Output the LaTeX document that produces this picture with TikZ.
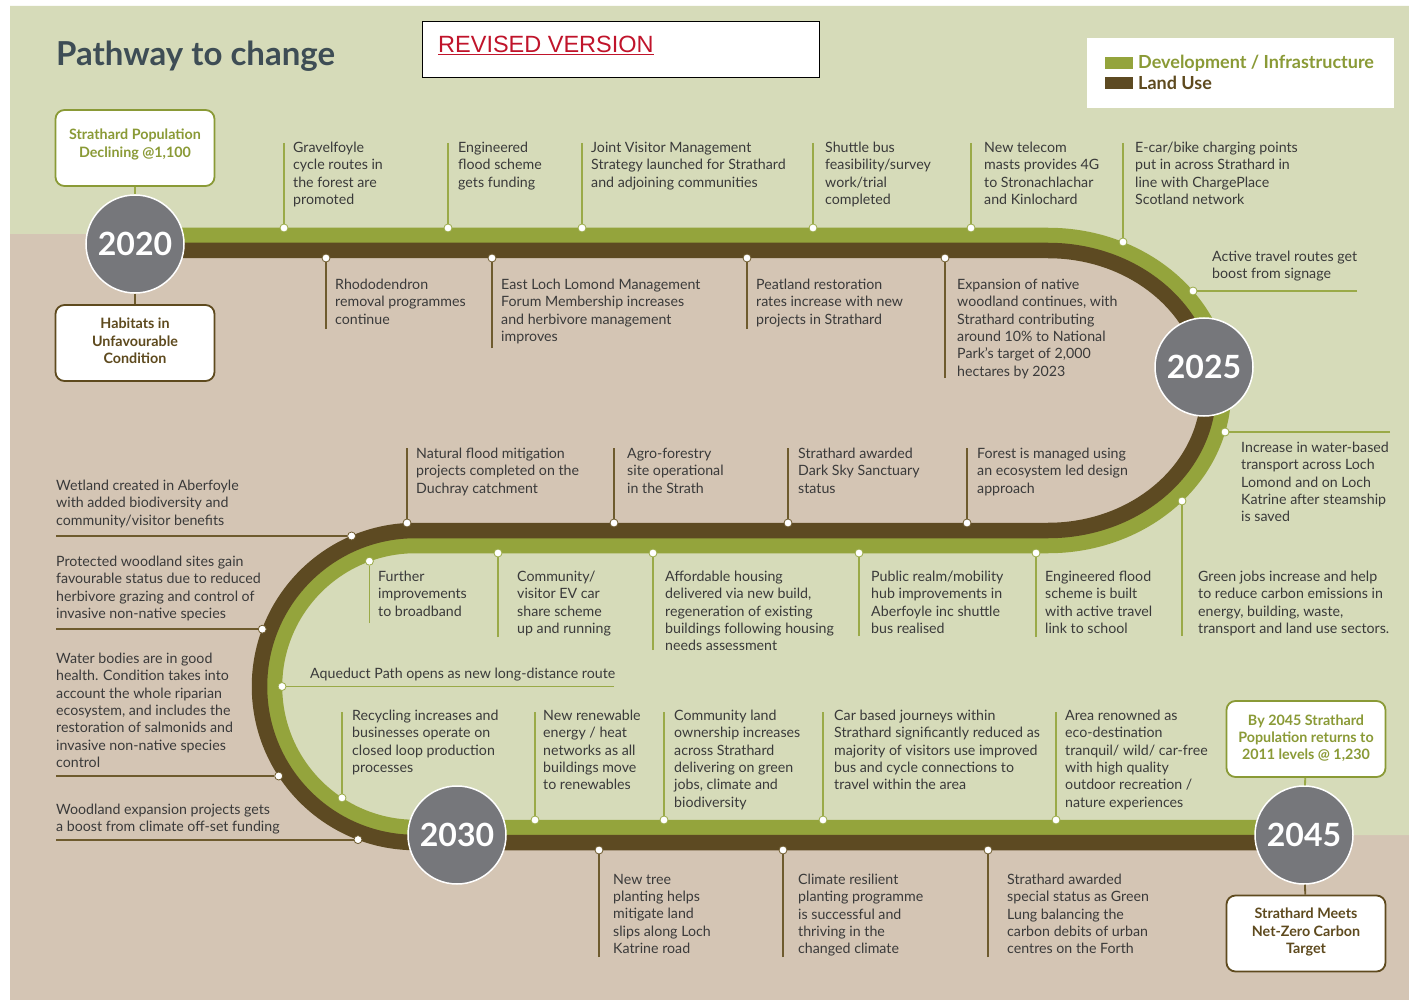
\documentclass[tikz,border=0pt]{standalone}
\usepackage{fontspec}
\setmainfont{Lato}
\newfontfamily\arialfont{Liberation Sans}
\definecolor{bggreen}{HTML}{D6DBB9}
\definecolor{bgbeige}{HTML}{D4C5B4}
\definecolor{roadgreen}{HTML}{94A43C}
\definecolor{roadbrown}{HTML}{5D4A22}
\definecolor{linegreen}{HTML}{9AAA48}
\definecolor{linebrown}{HTML}{6E5B2E}
\definecolor{olivetext}{HTML}{8A9A36}
\definecolor{browntext}{HTML}{5E4A1E}
\definecolor{yeargray}{HTML}{76777B}
\definecolor{titlecol}{HTML}{3E4D55}
\definecolor{txtcol}{HTML}{3A3A3A}
\definecolor{revred}{HTML}{C0142B}
\begin{document}
\begin{tikzpicture}[x=1pt,y=-1pt,
  txt/.style={anchor=north west, inner sep=0pt, align=left, text=txtcol, font=\fontsize{14.2}{17.3}\selectfont},
  gdot/.style={circle, fill=white, draw=linegreen, line width=0.8pt, inner sep=0pt, minimum size=8pt},
  bdot/.style={circle, fill=white, draw=linebrown, line width=0.8pt, inner sep=0pt, minimum size=8pt},
  gline/.style={draw=linegreen, line width=1.8pt},
  bline/.style={draw=linebrown, line width=1.8pt},
  year/.style={circle, fill=yeargray, draw=white, line width=1.5pt, minimum size=98pt, inner sep=0pt, text=white, font=\bfseries\fontsize{32}{32}\selectfont},
  ybox/.style={rounded corners=9pt, fill=white, line width=1.8pt, minimum width=159pt, minimum height=76pt, inner sep=0pt},
  ytext/.style={align=center, inner sep=0pt, font=\bfseries\fontsize{14.3}{17.3}\selectfont},
  swatch/.style={minimum width=28pt, minimum height=12pt, inner sep=0pt}
]
\useasboundingbox (0,0) rectangle (1409,1003);
% background
\fill[white] (0,0) rectangle (1409,1003);
\fill[bgbeige] (10,6) rectangle (1409,1000);
\fill[bggreen] (10,6) -- (1409,6) -- (1409,835) -- (415.5,835)
  arc[start angle=270,end angle=90,radius=148.5pt] -- (1048,538)
  arc[start angle=-90,end angle=90,x radius=168pt,y radius=147.5pt] -- (135,243) -- (135,234) -- (10,234) -- cycle;
% road
\draw[roadgreen, line width=15.5pt] (135,235.5) -- (1048,235.5)
  arc[start angle=90,end angle=-90,x radius=175.5pt,y radius=155pt] -- (415.5,545.5)
  arc[start angle=90,end angle=270,radius=141pt] -- (1303,827.5);
\draw[roadbrown, line width=15.5pt] (135,250.5) -- (1048,250.5)
  arc[start angle=90,end angle=-90,x radius=160.5pt,y radius=140pt] -- (415.5,530.5)
  arc[start angle=90,end angle=270,radius=156pt] -- (1303,842.5);

% title
\node[anchor=base west, inner sep=0pt, text=titlecol, font=\bfseries\fontsize{33}{33}\selectfont] (title) at (56,66) {Pathway to change};
\node[draw=black, line width=1pt, fill=white, minimum width=397pt, minimum height=56pt, inner sep=0pt] (revbox) at (620.5,50) {};
\node[anchor=west, inner sep=0pt, text=revred, font=\arialfont\fontsize{23.5}{23.5}\selectfont] (revtxt) at (438,45) {\underline{REVISED VERSION}};
% legend
\node[fill=white, minimum width=307pt, minimum height=70pt, inner sep=0pt] (legend) at (1240.5,73) {};
\node[swatch, fill=roadgreen] (sw1) at (1119,63) {};
\node[swatch, fill=roadbrown] (sw2) at (1119,83) {};
\node[anchor=west, inner sep=0pt, text=olivetext, font=\bfseries\fontsize{18}{18}\selectfont] (lg1) at (1138,63) {Development / Infrastructure};
\node[anchor=west, inner sep=0pt, text=browntext, font=\bfseries\fontsize{18}{18}\selectfont] (lg2) at (1138,83) {Land Use};

% dots
\node[gdot] (d1) at (284,228) {};
\node[gdot] (d2) at (448,228) {};
\node[gdot] (d3) at (582,228) {};
\node[gdot] (d4) at (813,228) {};
\node[gdot] (d5) at (971,228) {};
\node[gdot] (d6) at (1123,242) {};
\node[bdot] (d7) at (326,258) {};
\node[bdot] (d8) at (492,258) {};
\node[bdot] (d9) at (747,258) {};
\node[bdot] (d10) at (945,258) {};
\node[gdot] (d11) at (1193,291) {};
\node[gdot] (d12) at (1225,432) {};
\node[gdot] (d13) at (1182,501) {};
\node[bdot] (d14) at (407,523) {};
\node[bdot] (d15) at (614,523) {};
\node[bdot] (d16) at (788,523) {};
\node[bdot] (d17) at (967,523) {};
\node[gdot] (d18) at (369.4,561.2) {};
\node[gdot] (d19) at (498,553) {};
\node[gdot] (d20) at (653,553) {};
\node[gdot] (d21) at (859,553) {};
\node[gdot] (d22) at (1036,553) {};
\node[bdot] (d23) at (351.6,536) {};
\node[bdot] (d24) at (262.3,629.2) {};
\node[bdot] (d25) at (278.7,776) {};
\node[bdot] (d26) at (358,839.6) {};
\node[gdot] (d27) at (282,686.5) {};
\node[gdot] (d28) at (342,797.9) {};
\node[gdot] (d29) at (535,820) {};
\node[gdot] (d30) at (664,820) {};
\node[gdot] (d31) at (823,820) {};
\node[gdot] (d32) at (1056,820) {};
\node[bdot] (d33) at (599,850) {};
\node[bdot] (d34) at (783,850) {};
\node[bdot] (d35) at (988,850) {};

% free ends
\coordinate (e1) at (284,143);
\coordinate (e2) at (448,143);
\coordinate (e3) at (582,143);
\coordinate (e4) at (813,143);
\coordinate (e5) at (971,143);
\coordinate (e6) at (1123,143);
\coordinate (e7) at (326,329);
\coordinate (e8) at (492,348);
\coordinate (e9) at (747,329);
\coordinate (e10) at (945,378);
\coordinate (e11) at (1357,291);
\coordinate (e12) at (1390,432);
\coordinate (e13) at (1182,636);
\coordinate (e14) at (407,448);
\coordinate (e15) at (614,448);
\coordinate (e16) at (788,448);
\coordinate (e17) at (967,448);
\coordinate (e18) at (369.4,623);
\coordinate (e19) at (498,637);
\coordinate (e20) at (653,650);
\coordinate (e21) at (859,636);
\coordinate (e22) at (1036,637);
\coordinate (e23) at (56,536);
\coordinate (e24) at (56,629.2);
\coordinate (e25) at (56,776);
\coordinate (e26) at (56,839.6);
\coordinate (e27) at (614,686.5);
\coordinate (e28) at (342,712);
\coordinate (e29) at (535,712);
\coordinate (e30) at (664,712);
\coordinate (e31) at (823,712);
\coordinate (e32) at (1056,712);
\coordinate (e33) at (599,957);
\coordinate (e34) at (783,957);
\coordinate (e35) at (988,957);

% connectors
\foreach \i in {1,2,3,4,5,6,11,12,13,18,19,20,21,22,27,28,29,30,31,32} {\draw[gline] (e\i) -- (d\i);}
\foreach \i in {7,8,9,10,14,15,16,17,23,24,25,26,33,34,35} {\draw[bline] (e\i) -- (d\i);}

% year circles and boxes
\node[year] (y2020) at (135,244) {2020};
\node[year] (y2025) at (1204,367) {2025};
\node[year] (y2030) at (457,835) {2030};
\node[year] (y2045) at (1304,835) {2045};
\node[ybox, draw=olivetext] (b1) at (135,148) {};
\node[ybox, draw=browntext] (b2) at (135,343) {};
\node[ybox, draw=olivetext] (b3) at (1306,739) {};
\node[ybox, draw=browntext] (b4) at (1306,933.5) {};
\node[ytext, text=olivetext] (b1t) at (135,144.5) {Strathard Population\\Declining @1,100};
\node[ytext, text=browntext] (b2t) at (135,341) {Habitats in\\Unfavourable\\Condition};
\node[ytext, text=olivetext] (b3t) at (1306,738) {By 2045 Strathard\\Population returns to\\2011 levels @ 1,230};
\node[ytext, text=browntext] (b4t) at (1306,932) {Strathard Meets\\Net-Zero Carbon\\Target};
\draw[gline] (b1) -- (y2020);
\draw[bline] (y2020) -- (b2);
\draw[gline] (b3) -- (y2045);
\draw[bline] (y2045) -- (b4);

% texts
\node[txt] (t1) at (293,142) {Gravelfoyle\\cycle routes in\\the forest are\\promoted};
\node[txt] (t2) at (458,142) {Engineered\\flood scheme\\gets funding};
\node[txt] (t3) at (591,142) {Joint Visitor Management\\Strategy launched for Strathard\\and adjoining communities};
\node[txt] (t4) at (825,142) {Shuttle bus\\feasibility/survey\\work/trial\\completed};
\node[txt] (t5) at (984,142) {New telecom\\masts provides 4G\\to Stronachlachar\\and Kinlochard};
\node[txt] (t6) at (1135,142) {E-car/bike charging points\\put in across Strathard in\\line with ChargePlace\\Scotland network};
\node[txt] (t7) at (335,279) {Rhododendron\\removal programmes\\continue};
\node[txt] (t8) at (501,279) {East Loch Lomond Management\\Forum Membership increases\\and herbivore management\\improves};
\node[txt] (t9) at (756,279) {Peatland restoration\\rates increase with new\\projects in Strathard};
\node[txt] (t10) at (957,279) {Expansion of native\\woodland continues, with\\Strathard contributing\\around 10\% to National\\Park’s target of 2,000\\hectares by 2023};
\node[txt] (t11) at (1212,251) {Active travel routes get\\boost from signage};
\node[txt] (t12) at (1241,442) {Increase in water-based\\transport across Loch\\Lomond and on Loch\\Katrine after steamship\\is saved};
\node[txt] (t13) at (1198,571) {Green jobs increase and help\\to reduce carbon emissions in\\energy, building, waste,\\transport and land use sectors.};
\node[txt] (t14) at (416,448) {Natural flood mitigation\\projects completed on the\\Duchray catchment};
\node[txt] (t15) at (627,448) {Agro-forestry\\site operational\\in the Strath};
\node[txt] (t16) at (798,448) {Strathard awarded\\Dark Sky Sanctuary\\status};
\node[txt] (t17) at (977,448) {Forest is managed using\\an ecosystem led design\\approach};
\node[txt] (t18) at (378,571) {Further\\improvements\\to broadband};
\node[txt] (t19) at (517,571) {Community/\\visitor EV car\\share scheme\\up and running};
\node[txt] (t20) at (665,571) {Affordable housing\\delivered via new build,\\regeneration of existing\\buildings following housing\\needs assessment};
\node[txt] (t21) at (871,571) {Public realm/mobility\\hub improvements in\\Aberfoyle inc shuttle\\bus realised};
\node[txt] (t22) at (1045,571) {Engineered flood\\scheme is built\\with active travel\\link to school};
\node[txt] (t23) at (56,480) {Wetland created in Aberfoyle\\with added biodiversity and\\community/visitor benefits};
\node[txt] (t24) at (56,556) {Protected woodland sites gain\\favourable status due to reduced\\herbivore grazing and control of\\invasive non-native species};
\node[txt] (t25) at (56,653) {Water bodies are in good\\health. Condition takes into\\account the whole riparian\\ecosystem, and includes the\\restoration of salmonids and\\invasive non-native species\\control};
\node[txt] (t26) at (56,804) {Woodland expansion projects gets\\a boost from climate off-set funding};
\node[txt] (t27) at (310,668) {Aqueduct Path opens as new long-distance route};
\node[txt] (t28) at (352,710) {Recycling increases and\\businesses operate on\\closed loop production\\processes};
\node[txt] (t29) at (543,710) {New renewable\\energy / heat\\networks as all\\buildings move\\to renewables};
\node[txt] (t30) at (674,710) {Community land\\ownership increases\\across Strathard\\delivering on green\\jobs, climate and\\biodiversity};
\node[txt] (t31) at (834,710) {Car based journeys within\\Strathard significantly reduced as\\majority of visitors use improved\\bus and cycle connections to\\travel within the area};
\node[txt] (t32) at (1065,710) {Area renowned as\\eco-destination\\tranquil/ wild/ car-free\\with high quality\\outdoor recreation /\\nature experiences};
\node[txt] (t33) at (613,874) {New tree\\planting helps\\mitigate land\\slips along Loch\\Katrine road};
\node[txt] (t34) at (798,874) {Climate resilient\\planting programme\\is successful and\\thriving in the\\changed climate};
\node[txt] (t35) at (1007,874) {Strathard awarded\\special status as Green\\Lung balancing the\\carbon debits of urban\\centres on the Forth};
\end{tikzpicture}
\end{document}
